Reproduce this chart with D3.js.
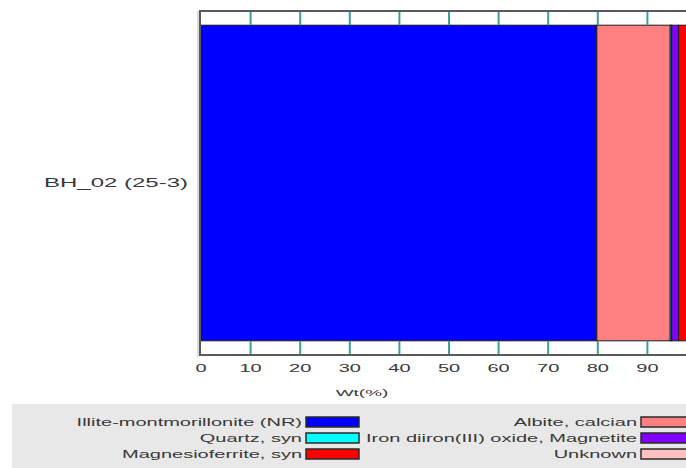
<!DOCTYPE html>
<html>
<head>
<meta charset="utf-8">
<script src="https://cdn.jsdelivr.net/npm/d3@7"></script>
<style>
  html, body { margin: 0; padding: 0; background: #fff; overflow: hidden; }
  svg { display: block; font-family: "Liberation Sans", Arial, sans-serif; }
</style>
</head>
<body>
<svg id="chart" width="686" height="468"></svg>
<script>
// Sample and phase composition (Wt %)
const samples = ["BH_02 (25-3)"];
const phases = [
  "Illite-montmorillonite (NR)",
  "Albite, calcian",
  "Quartz, syn",
  "Iron diiron(III) oxide, Magnetite",
  "Magnesioferrite, syn",
  "Unknown"
];
const phaseValues = [79.8, 14.8, 0.3, 1.4, 2.4, 1.3];
const phaseColors = ["#0000ff", "#ff8080", "#00ffff", "#8000ff", "#ff0000", "#ffc0c0"];
const xTicks = [0, 10, 20, 30, 40, 50, 60, 70, 80, 90, 100];
const xTitle = "Wt(%)";

const width = 686;
const svg = d3.select("#chart");
const textColor = "#383838";
const sx = 2; // horizontal stretch of the lettering

function label(g, x, y, str, size, anchor) {
  return g.append("text")
    .attr("transform", `translate(${x},${y}) scale(${sx},1)`)
    .attr("text-anchor", anchor)
    .attr("font-size", size)
    .attr("fill", textColor)
    .text(str);
}

// Plot geometry
const frame = { left: 200, top: 11, bottom: 355, right: 700 };
const x = d3.scaleLinear().domain([0, 100]).range([201, 697]);
const y = d3.scaleBand().domain(samples).range([frame.top, frame.bottom]).paddingInner(0).paddingOuter(0.045);

// Stacked segments
const stacked = samples.map(s => {
  let acc = 0;
  return phases.map((p, i) => {
    const seg = { sample: s, phase: p, x0: acc, x1: acc + phaseValues[i], color: phaseColors[i] };
    acc += phaseValues[i];
    return seg;
  });
}).flat();

svg.append("g").selectAll("rect")
  .data(stacked)
  .join("rect")
  .attr("x", d => x(d.x0))
  .attr("y", d => y(d.sample))
  .attr("width", d => x(d.x1) - x(d.x0))
  .attr("height", y.bandwidth())
  .attr("fill", d => d.color)
  .attr("stroke", "#1a1a1a")
  .attr("stroke-width", 1);

// Ticks at the top and bottom of the frame
const bandTop = y(samples[0]);
const bandBottom = bandTop + y.bandwidth();
const tickG = svg.append("g");
tickG.selectAll("line.top")
  .data(xTicks.slice(1))
  .join("line")
  .attr("class", "top")
  .attr("x1", d => x(d)).attr("x2", d => x(d))
  .attr("y1", frame.top).attr("y2", bandTop)
  .attr("stroke", "#3e9e9a").attr("stroke-width", 2);
tickG.selectAll("line.bot")
  .data(xTicks.slice(1))
  .join("line")
  .attr("class", "bot")
  .attr("x1", d => x(d)).attr("x2", d => x(d))
  .attr("y1", bandBottom).attr("y2", frame.bottom)
  .attr("stroke", "#3e9e9a").attr("stroke-width", 2);

// Frame
svg.append("rect")
  .attr("x", frame.left).attr("y", frame.top)
  .attr("width", frame.right - frame.left).attr("height", frame.bottom - frame.top)
  .attr("fill", "none").attr("stroke", "#5a5a5a").attr("stroke-width", 2);
svg.append("line")
  .attr("x1", frame.left - 2).attr("x2", frame.left - 2)
  .attr("y1", frame.top).attr("y2", frame.bottom + 2)
  .attr("stroke", "#b8b8b0").attr("stroke-width", 1);

// Tick labels (only those whose full label fits inside the canvas)
const tl = svg.append("g");
xTicks.filter(t => x(t) + 12 < width)
  .forEach(t => label(tl, x(t), 372, String(t), 10, "middle"));

// Axis title
label(svg, 362, 396, xTitle, 9.5, "middle");

// Category label
samples.forEach(s => label(svg, 188, y(s) + y.bandwidth() / 2 + 4, s, 12, "end"));

// Legend
svg.append("rect")
  .attr("x", 12).attr("y", 404).attr("width", 690).attr("height", 70)
  .attr("fill", "#e8e8e8");
const legend = svg.append("g");
const colText = [302, 637];
const colSwatch = [306, 641];
phases.forEach((p, i) => {
  const col = i % 2, row = Math.floor(i / 2);
  const cy = 422 + row * 16;
  legend.append("rect")
    .attr("x", colSwatch[col]).attr("y", cy - 5)
    .attr("width", 53).attr("height", 10)
    .attr("fill", phaseColors[i])
    .attr("stroke", "#2a2a2a").attr("stroke-width", 1.5);
  label(legend, colText[col], cy + 3.5, p, 10, "end");
});
</script>
</body>
</html>
